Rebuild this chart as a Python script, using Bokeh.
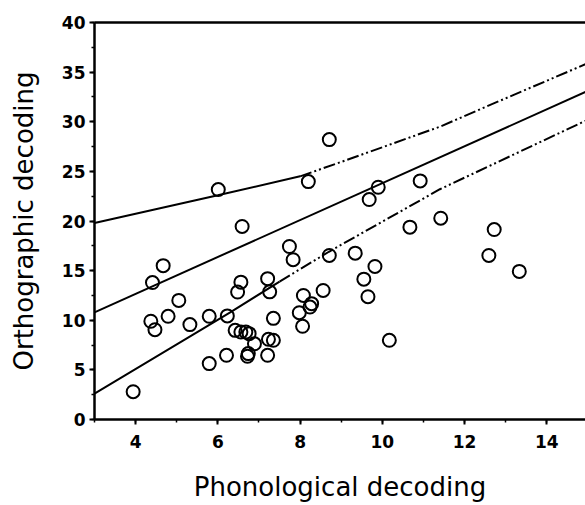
from bokeh.plotting import figure
from bokeh.models import SingleIntervalTicker, LinearAxis, FixedTicker, Range1d
from bokeh.embed import file_html
from bokeh.resources import INLINE

# Scatter data: phonological (x) vs orthographic (y) decoding
phon = [3.94, 4.67, 4.41, 5.05, 4.79, 4.37, 4.47, 5.32, 5.79, 6.23,
        5.79, 6.21, 6.48, 6.56, 6.42, 6.56, 6.68, 6.76, 6.89, 6.72,
        6.74, 7.21, 7.21, 7.26, 7.35, 7.23, 7.35, 8.71, 8.20, 9.90,
        9.68, 10.92, 7.74, 7.83, 8.71, 9.34, 9.82, 10.67, 11.42, 8.08,
        8.56, 8.28, 8.24, 7.98, 8.06, 9.55, 9.65, 10.17, 12.72, 12.59,
        13.33, 6.01, 6.59]
orth = [2.8, 15.5, 13.8, 12.0, 10.4, 9.9, 9.05, 9.56, 10.4, 10.44,
        5.63, 6.47, 12.84, 13.84, 8.98, 8.81, 8.81, 8.65, 7.63, 6.37,
        6.64, 6.47, 14.19, 12.86, 10.19, 8.08, 7.98, 28.2, 23.97, 23.4,
        22.16, 24.04, 17.43, 16.1, 16.53, 16.76, 15.42, 19.38, 20.28, 12.5,
        13.0, 11.67, 11.33, 10.76, 9.39, 14.14, 12.37, 7.98, 19.14, 16.53,
        14.92, 23.17, 19.45]

# Regression line and band curves
reg_x = [3.0, 14.94]
reg_y = [10.8, 33.0]
upper_x = [3.0, 6.0, 8.0, 9.1, 11.4, 12.4, 14.94]
upper_y = [19.8, 22.6, 24.5, 26.1, 29.5, 31.3, 35.8]
upper_split = 2
lower_x = [3.0, 6.3, 7.5, 8.7, 11.4, 14.94]
lower_y = [2.6, 10.8, 13.9, 16.9, 23.2, 30.1]
lower_split = 2

p = figure(width=585, height=505, output_backend="svg", toolbar_location=None,
           x_range=Range1d(3.0, 14.94), y_range=Range1d(0, 40),
           min_border_left=94, min_border_right=0, min_border_top=22,
           min_border_bottom=86, x_axis_location=None, y_axis_location=None)
p.outline_line_color = None
p.grid.visible = False
p.background_fill_color = "white"
p.border_fill_color = "white"

tick_font = "DejaVu Sans"
title_font = "DejaVu Sans"

xaxis = LinearAxis(ticker=SingleIntervalTicker(interval=2, num_minor_ticks=2),
                   axis_label="Phonological decoding")
yaxis = LinearAxis(ticker=SingleIntervalTicker(interval=5, num_minor_ticks=2),
                   axis_label="Orthographic decoding")
for ax in (xaxis, yaxis):
    ax.axis_line_width = 2.5
    ax.axis_line_color = "black"
    ax.major_tick_line_width = 2
    ax.minor_tick_line_width = 1.5
    ax.major_tick_in = 0
    ax.major_tick_out = 5
    ax.minor_tick_in = 0
    ax.minor_tick_out = 3
    ax.major_label_text_font = tick_font
    ax.major_label_text_font_style = "bold"
    ax.major_label_text_font_size = "17px"
    ax.major_label_text_color = "black"
    ax.axis_label_text_font = title_font
    ax.axis_label_text_font_style = "normal"
    ax.axis_label_text_font_size = "26px"
    ax.axis_label_text_color = "black"
xaxis.major_label_standoff = 10
xaxis.axis_label_standoff = 21
yaxis.major_label_standoff = 4
yaxis.axis_label_standoff = 20
p.add_layout(xaxis, "below")
p.add_layout(yaxis, "left")

top = LinearAxis(ticker=FixedTicker(ticks=[]))
top.axis_line_width = 2.5
top.major_tick_out = 0
top.minor_tick_out = 0
top.major_label_text_font_size = "0px"
p.add_layout(top, "above")

# regression line
p.line(reg_x, reg_y, line_color="black", line_width=2)
# band curves: solid left part, dash-dot-dot right part
dash = "12 3 2 3 2 3"
p.line(upper_x[:upper_split + 1], upper_y[:upper_split + 1], line_color="black", line_width=2)
p.line(upper_x[upper_split:], upper_y[upper_split:], line_color="black", line_width=2, line_dash=dash)
p.line(lower_x[:lower_split + 1], lower_y[:lower_split + 1], line_color="black", line_width=2)
p.line(lower_x[lower_split:], lower_y[lower_split:], line_color="black", line_width=2, line_dash=dash)

p.scatter(phon, orth, marker="circle", size=13, fill_color=None,
          line_color="black", line_width=2)

open("out.html", "w").write(file_html(p, INLINE))
